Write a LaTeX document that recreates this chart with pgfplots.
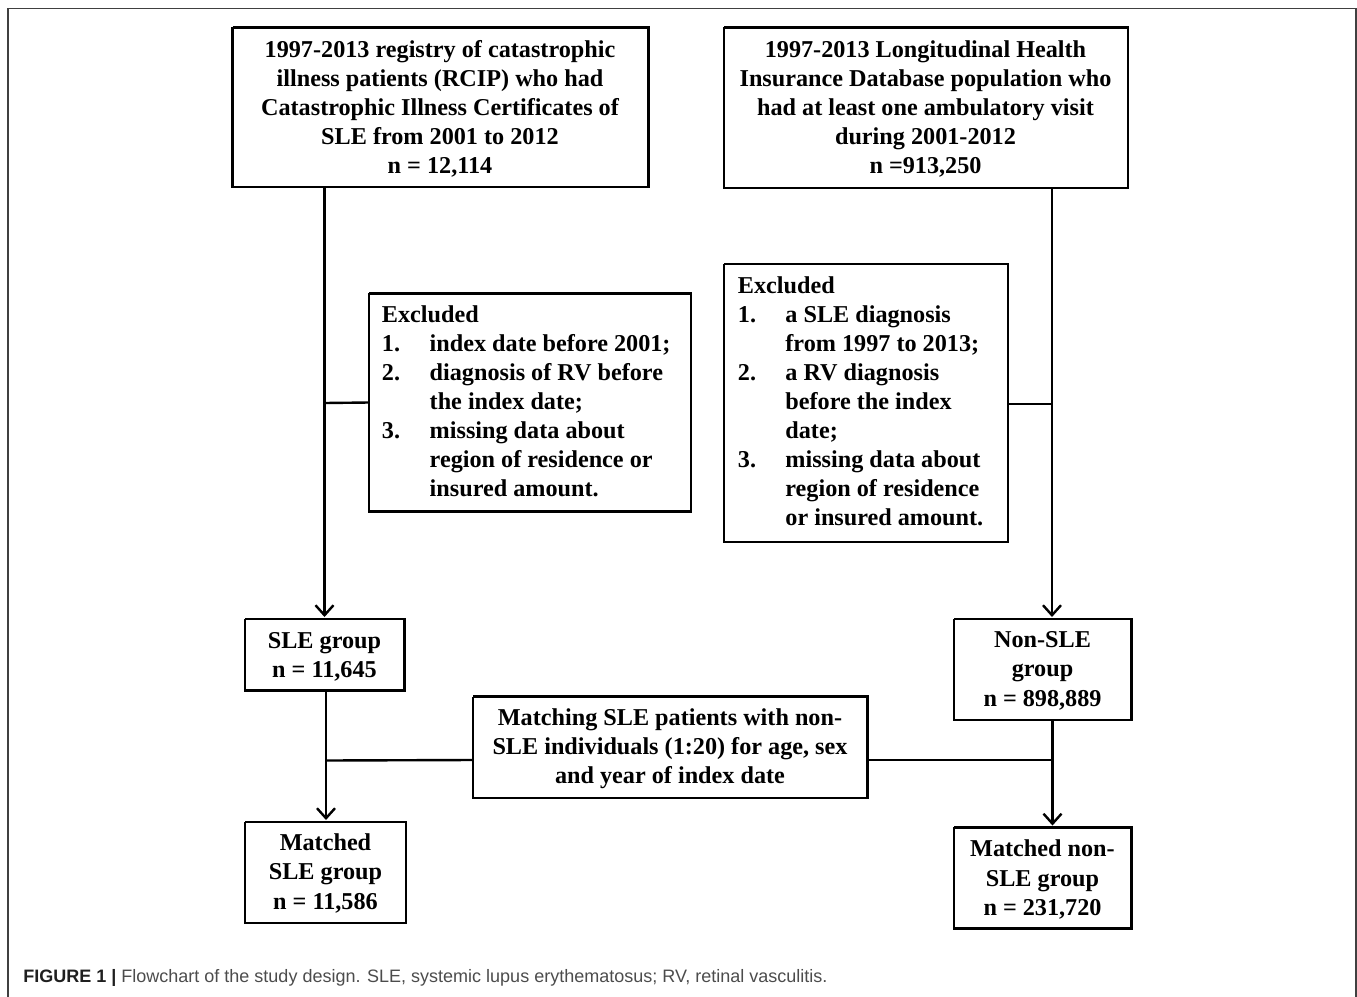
\documentclass[border=0pt]{standalone}
\usepackage{pgfplots}
\pgfplotsset{compat=1.18}
\usepackage{fontspec}
\setmainfont{Liberation Serif}
\newfontfamily\capfont{Liberation Sans}
\usetikzlibrary{arrows.meta}
\newcommand{\bxf}{\fontsize{12.1}{14.5}\selectfont\bfseries}
\tikzset{
  boxline/.style={black,line width=1.45pt,line join=miter},
  conn/.style={black,line width=1.2pt},
  arr/.style={black,line width=1.2pt,-{Straight Barb[length=5pt,width=9pt,line width=1.2pt]}},
}
\newcommand{\bx}[4]{\addplot[boxline] coordinates {(#1,#2) (#3,#2) (#3,#4) (#1,#4) (#1,#2)};}
\newcommand{\tc}[3]{\node[anchor=base,inner sep=0pt,font=\bxf] at (axis cs:#1,#2) {#3};}
\newcommand{\tl}[3]{\node[anchor=base west,inner sep=0pt,font=\bxf] at (axis cs:#1,#2) {#3};}
\begin{document}
\begin{tikzpicture}
\begin{axis}[
  width=678.5pt, height=498.5pt, scale only axis,
  xmin=0, xmax=1357, ymin=0, ymax=997, y dir=reverse,
  hide axis, clip=false,
]
% outer frame
\addplot[black!75,line width=0.9pt] coordinates {(8,997) (8,8.5) (1355.8,8.5) (1355.8,997)};
% boxes
\bx{232.5}{27.3}{648.3}{187}
\bx{724}{27.3}{1128}{188}
\bx{369}{293.3}{691}{511.7}
\bx{724}{264}{1008}{542}
\bx{245}{619}{404.5}{690.5}
\bx{954}{619}{1131.5}{720}
\bx{473}{696.7}{867.5}{798}
\bx{245}{822}{406}{923}
\bx{954}{827.3}{1131.5}{928.3}
% arrows and connectors
\addplot[arr] coordinates {(324.5,187) (324.5,617)};
\addplot[arr] coordinates {(1052,188) (1052,617)};
\addplot[arr] coordinates {(326,690.5) (326,820)};
\addplot[arr] coordinates {(1052.5,720) (1052.5,825.5)};
\addplot[conn] coordinates {(324.5,403) (369,402.5)};
\addplot[conn] coordinates {(1008,404) (1052,404)};
\addplot[conn] coordinates {(326,760.5) (473,760)};
\addplot[conn] coordinates {(867.5,760) (1052.5,760)};
% box A
\tc{440}{57}{1997-2013 registry of catastrophic}
\tc{440}{86}{illness patients (RCIP) who had}
\tc{440}{115}{Catastrophic Illness Certificates of}
\tc{440}{144}{SLE from 2001 to 2012}
\tc{440}{173}{n = 12,114}
% box B
\tc{925.5}{57}{1997-2013 Longitudinal Health}
\tc{925.5}{86}{Insurance Database population who}
\tc{925.5}{115}{had at least one ambulatory visit}
\tc{925.5}{144}{during 2001-2012}
\tc{925.5}{173}{n =913,250}
% excluded left
\tl{381.5}{322.5}{Excluded}
\tl{381.5}{351.5}{1.}\tl{429.3}{351.5}{index date before 2001;}
\tl{381.5}{380.5}{2.}\tl{429.3}{380.5}{diagnosis of RV before}
\tl{429.3}{409.5}{the index date;}
\tl{381.5}{438.5}{3.}\tl{429.3}{438.5}{missing data about}
\tl{429.3}{467.5}{region of residence or}
\tl{429.3}{496.5}{insured amount.}
% excluded right
\tl{737.5}{293.3}{Excluded}
\tl{737.5}{322}{1.}\tl{785}{322}{a SLE diagnosis}
\tl{785}{351}{from 1997 to 2013;}
\tl{737.5}{380}{2.}\tl{785}{380}{a RV diagnosis}
\tl{785}{409}{before the index}
\tl{785}{438}{date;}
\tl{737.5}{467}{3.}\tl{785}{467}{missing data about}
\tl{785}{496}{region of residence}
\tl{785}{525}{or insured amount.}
% SLE group
\tc{324.5}{648.3}{SLE group}
\tc{324.5}{677.3}{n = 11,645}
% Non-SLE group
\tc{1042.5}{647.7}{Non-SLE}
\tc{1042.5}{676.7}{group}
\tc{1042.5}{706}{n = 898,889}
% Matching
\tc{670}{725}{Matching SLE patients with non-}
\tc{670}{754.3}{SLE individuals (1:20) for age, sex}
\tc{670}{783.3}{and year of index date}
% Matched SLE
\tc{325.5}{850}{Matched}
\tc{325.5}{879.3}{SLE group}
\tc{325.5}{909.3}{n = 11,586}
% Matched non-SLE
\tc{1042.5}{856.7}{Matched non-}
\tc{1042.5}{886}{SLE group}
\tc{1042.5}{915}{n = 231,720}
% caption
\node[anchor=base west,inner sep=0pt,font=\capfont\fontsize{9.0}{10.5}\selectfont,text=black!70] at (axis cs:23,982.5) {{\bfseries\color{black!88}FIGURE 1 |} Flowchart of the study design. SLE, systemic lupus erythematosus; RV, retinal vasculitis.};
\end{axis}
\pgfresetboundingbox
\path[use as bounding box] (current axis.south west) rectangle (current axis.north east);
\end{tikzpicture}
\end{document}
